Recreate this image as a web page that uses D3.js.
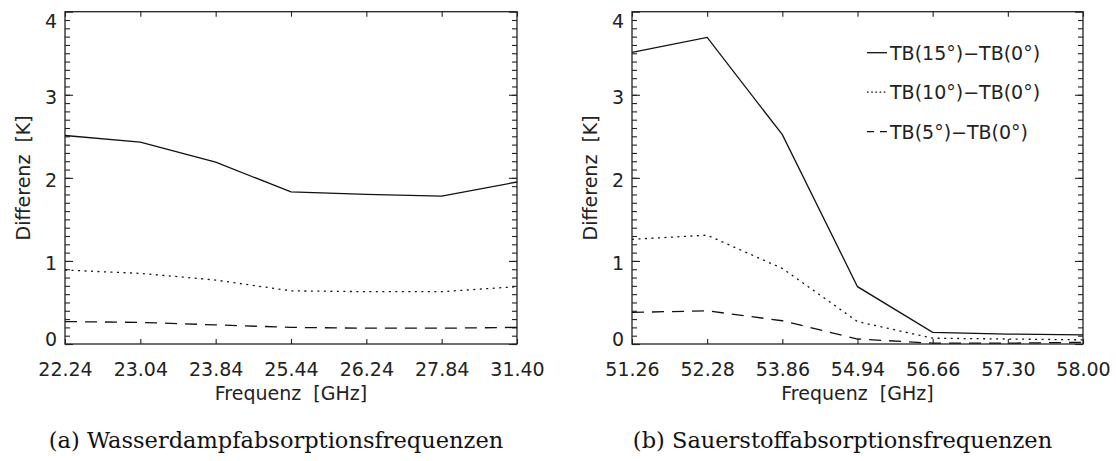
<!DOCTYPE html>
<meta charset="utf-8">
<script src="https://d3js.org/d3.v7.min.js"></script>
<style>
    body {margin: 0; background: #fff;}
    svg {display: block;}
    .tick text, .lbl {font-family: 'DejaVu Sans', sans-serif; font-size: 19px; fill: #222;}
    .cap {font-family: 'DejaVu Serif', serif; font-size: 22.5px; fill: #111;}
</style>
<body>
<svg width="1116" height="461"></svg>
<script>
    // frequencies (category labels) and differences TB(x°)-TB(0°) in K
    var freqWater = ["22.24","23.04","23.84","25.44","26.24","27.84","31.40"];
    var water15 = [2.51, 2.43, 2.19, 1.83, 1.80, 1.78, 1.95];
    var water10 = [0.89, 0.85, 0.77, 0.64, 0.63, 0.63, 0.69];
    var water5  = [0.27, 0.26, 0.23, 0.20, 0.19, 0.19, 0.20];

    var freqOxy = ["51.26","52.28","53.86","54.94","56.66","57.30","58.00"];
    var oxy15 = [3.51, 3.69, 2.52, 0.69, 0.14, 0.12, 0.11];
    var oxy10 = [1.26, 1.31, 0.91, 0.27, 0.07, 0.06, 0.05];
    var oxy5  = [0.38, 0.40, 0.28, 0.06, 0.01, 0.01, 0.02];

    var yTicks = [0, 1, 2, 3, 4];
    var legendLabels = ["TB(15°)\u2212TB(0°)", "TB(10°)\u2212TB(0°)", "TB(5°)\u2212TB(0°)"];
    var captions = ["(a) Wasserdampfabsorptionsfrequenzen", "(b) Sauerstoffabsorptionsfrequenzen"];

    var svg = d3.select("svg");
    var plotTop = 11.7, plotBottom = 344;
    var styles = [
        {dash: null, legendDash: null},
        {dash: "2,4.5", legendDash: "1.6,2.6"},
        {dash: "12,8", legendDash: "7,6"}
    ];

    var panels = [
        {left: 65, right: 517, cats: freqWater, series: [water15, water10, water5], legend: false},
        {left: 632, right: 1083, cats: freqOxy, series: [oxy15, oxy10, oxy5], legend: true}
    ];

    var y = d3.scaleLinear().domain([0, 4]).range([plotBottom, plotTop]);

    panels.forEach(function(p, pi){
        var x = d3.scalePoint().domain(p.cats).range([p.left, p.right]);
        var g = svg.append("g");

        // minor ticks left/right
        var minor = d3.range(0, 40).map(function(i){ return i / 10; });
        g.append("g").attr("transform", "translate(" + p.left + ",0)")
            .call(d3.axisLeft(y).tickValues(minor).tickSize(-5).tickFormat(""));
        g.append("g").attr("transform", "translate(" + p.right + ",0)")
            .call(d3.axisRight(y).tickValues(minor).tickSize(-5).tickFormat(""));
        // major ticks
        var ly = g.append("g").attr("transform", "translate(" + p.left + ",0)")
            .call(d3.axisLeft(y).tickValues(yTicks).tickSize(-8).tickPadding(8).tickFormat(d3.format("d")));
        ly.selectAll(".tick text")
            .attr("x", -8)
            .attr("dy", function(d){ return d === 4 ? "0.82em" : d === 0 ? "0.07em" : "0.46em"; });
        g.append("g").attr("transform", "translate(" + p.right + ",0)")
            .call(d3.axisRight(y).tickValues(yTicks).tickSize(-8).tickFormat(""));

        var lx = g.append("g").attr("transform", "translate(0," + plotBottom + ")")
            .call(d3.axisBottom(x).tickSize(-5));
        lx.selectAll(".tick text").attr("y", 31.5).attr("dy", 0);
        g.append("g").attr("transform", "translate(0," + plotTop + ")")
            .call(d3.axisTop(x).tickSize(-5).tickFormat(""));

        g.selectAll(".domain").remove();
        g.selectAll(".tick line").attr("stroke", "#222").attr("stroke-width", 1.1);

        g.append("rect")
            .attr("x", p.left).attr("y", plotTop)
            .attr("width", p.right - p.left).attr("height", plotBottom - plotTop)
            .attr("fill", "none").attr("stroke", "#222").attr("stroke-width", 1.3);

        var line = d3.line()
            .x(function(d, i){ return x(p.cats[i]); })
            .y(function(d){ return y(d); });

        p.series.forEach(function(s, si){
            g.append("path")
                .attr("d", line(s))
                .attr("fill", "none")
                .attr("stroke", "#111")
                .attr("stroke-width", 1.3)
                .attr("stroke-dasharray", styles[si].dash);
        });

        g.append("text").attr("class", "lbl")
            .attr("text-anchor", "middle")
            .attr("transform", "translate(" + (p.left - 42) + "," + ((plotTop + plotBottom) / 2) + ") rotate(-90)")
            .attr("dy", "0.35em")
            .text("Differenz \u00a0[K]");

        g.append("text").attr("class", "lbl")
            .attr("text-anchor", "middle")
            .attr("x", (p.left + p.right) / 2)
            .attr("y", 400)
            .text("Frequenz \u00a0[GHz]");

        g.append("text").attr("class", "cap")
            .attr("text-anchor", "middle")
            .attr("x", (p.left + p.right) / 2 - 15)
            .attr("y", 448)
            .text(captions[pi]);

        if (p.legend){
            var lg = g.append("g").attr("transform", "translate(" + (p.left + 235) + ",52.7)");
            legendLabels.forEach(function(t, i){
                lg.append("line")
                    .attr("x1", 0).attr("x2", 20)
                    .attr("y1", i * 39.5).attr("y2", i * 39.5)
                    .attr("stroke", "#111").attr("stroke-width", 1.3)
                    .attr("stroke-dasharray", styles[i].legendDash);
                lg.append("text").attr("class", "lbl")
                    .attr("x", 23).attr("y", i * 39.5 + 7)
                    .text(t);
            });
        }
    });
</script>
</body>
